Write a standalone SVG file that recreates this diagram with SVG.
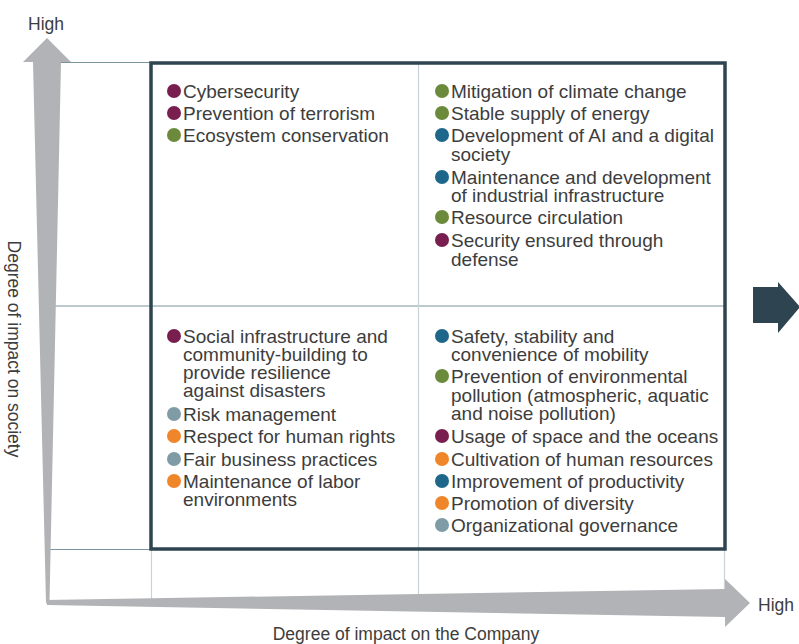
<svg xmlns="http://www.w3.org/2000/svg" width="799" height="644" viewBox="0 0 799 644">
<style>
.t{font-family:"Liberation Sans",Arial,sans-serif;font-size:19px;fill:#3d3d3d}
.ax{font-family:"Liberation Sans",Arial,sans-serif;font-size:17.5px;fill:#3d3d3d}
.gl{stroke:#7a949d;stroke-width:1.2;fill:none}
.gl2{stroke:#c7d3d7;stroke-width:1.2;fill:none}
.m{fill:#781f4f}.g{fill:#6b8a3b}.b{fill:#1e678a}.s{fill:#7f9ca6}.o{fill:#f0862a}
</style>
<rect width="799" height="644" fill="#ffffff"/>
<g id="grid">
<line class="gl" x1="60" y1="62.5" x2="151" y2="62.5"/>
<line class="gl" x1="55" y1="306" x2="725" y2="306"/>
<line class="gl" x1="49" y1="549.5" x2="151" y2="549.5"/>
<line class="gl2" x1="418.5" y1="63" x2="418.5" y2="597"/>
<line class="gl2" x1="151.5" y1="549" x2="151.5" y2="600"/>
<line class="gl2" x1="724.5" y1="549" x2="724.5" y2="589"/>
</g>
<g id="axes">
<path d="M47,38 L71,62 L61,62 L49.5,601 L46,603 L33,62 L23,62 Z" fill="#b2b3b6"/>
<path d="M46,600 L725,589 L725,579 L750,603 L725,627 L725,617 L47,605 Z" fill="#b2b3b6"/>
<text class="ax" x="46" y="30" text-anchor="middle">High</text>
<text class="ax" x="758" y="611">High</text>
<text class="ax" x="406" y="640" text-anchor="middle">Degree of impact on the Company</text>
<text class="ax" transform="translate(8,349) rotate(90)" text-anchor="middle">Degree of impact on society</text>
</g>
<g id="frame">
<rect x="151" y="63" width="574" height="486" fill="none" stroke="#2e4450" stroke-width="3.5"/>
</g>
<g id="next-arrow">
<path d="M753,287 L778,287 L778,282 L800,307 L778,333 L778,323 L753,323 Z" fill="#2e4450"/>
</g>
<g id="q-top-left">
<circle class="m" cx="174" cy="91" r="7"/><text class="t" x="183" y="98">Cybersecurity</text>
<circle class="m" cx="174" cy="113" r="7"/><text class="t" x="183" y="120">Prevention of terrorism</text>
<circle class="g" cx="174" cy="135" r="7"/><text class="t" x="183" y="142">Ecosystem conservation</text>
</g>
<g id="q-top-right">
<circle class="g" cx="442" cy="91" r="7"/><text class="t" x="451" y="98">Mitigation of climate change</text>
<circle class="g" cx="442" cy="113" r="7"/><text class="t" x="451" y="120">Stable supply of energy</text>
<circle class="b" cx="442" cy="135" r="7"/><text class="t" x="451" y="142">Development of AI and a digital</text>
<text class="t" x="451" y="161">society</text>
<circle class="b" cx="442" cy="177" r="7"/><text class="t" x="451" y="184">Maintenance and development</text>
<text class="t" x="451" y="202">of industrial infrastructure</text>
<circle class="g" cx="442" cy="217" r="7"/><text class="t" x="451" y="224">Resource circulation</text>
<circle class="m" cx="442" cy="240" r="7"/><text class="t" x="451" y="247">Security ensured through</text>
<text class="t" x="451" y="266">defense</text>
</g>
<g id="q-bottom-left">
<circle class="m" cx="174" cy="336" r="7"/><text class="t" x="183" y="343">Social infrastructure and</text>
<text class="t" x="183" y="361">community-building to</text>
<text class="t" x="183" y="379">provide resilience</text>
<text class="t" x="183" y="397">against disasters</text>
<circle class="s" cx="174" cy="414" r="7"/><text class="t" x="183" y="421">Risk management</text>
<circle class="o" cx="174" cy="436" r="7"/><text class="t" x="183" y="443">Respect for human rights</text>
<circle class="s" cx="174" cy="459" r="7"/><text class="t" x="183" y="466">Fair business practices</text>
<circle class="o" cx="174" cy="481" r="7"/><text class="t" x="183" y="488">Maintenance of labor</text>
<text class="t" x="183" y="506">environments</text>
</g>
<g id="q-bottom-right">
<circle class="b" cx="442" cy="336" r="7"/><text class="t" x="451" y="343">Safety, stability and</text>
<text class="t" x="451" y="361">convenience of mobility</text>
<circle class="g" cx="442" cy="376" r="7"/><text class="t" x="451" y="383">Prevention of environmental</text>
<text class="t" x="451" y="402">pollution (atmospheric, aquatic</text>
<text class="t" x="451" y="420">and noise pollution)</text>
<circle class="m" cx="442" cy="436" r="7"/><text class="t" x="451" y="443">Usage of space and the oceans</text>
<circle class="o" cx="442" cy="459" r="7"/><text class="t" x="451" y="466">Cultivation of human resources</text>
<circle class="b" cx="442" cy="481" r="7"/><text class="t" x="451" y="488">Improvement of productivity</text>
<circle class="o" cx="442" cy="503" r="7"/><text class="t" x="451" y="510">Promotion of diversity</text>
<circle class="s" cx="442" cy="525" r="7"/><text class="t" x="451" y="532">Organizational governance</text>
</g>
</svg>
